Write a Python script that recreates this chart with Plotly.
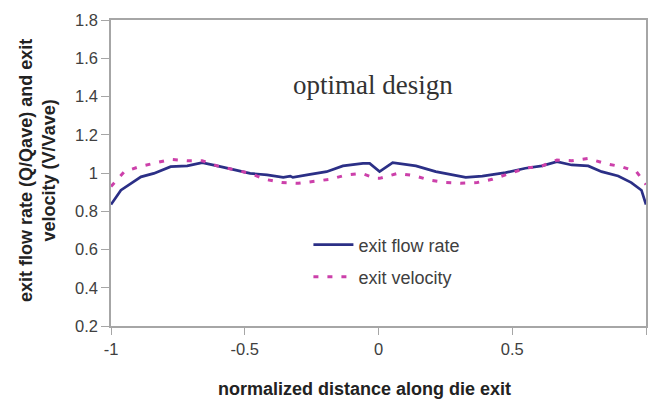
import plotly.graph_objects as go

# exit flow rate (Q/Qave)
flow_x = [-1.0, -0.963, -0.915, -0.888, -0.84, -0.777, -0.715, -0.659, -0.603, -0.542,
          -0.48, -0.417, -0.356, -0.33, -0.32, -0.256, -0.194, -0.133, -0.058, -0.033,
          0.004, 0.053, 0.14, 0.214, 0.276, 0.326, 0.388, 0.475, 0.549, 0.611,
          0.667, 0.722, 0.784, 0.834, 0.896, 0.945, 0.983, 1.0]
flow_y = [0.835, 0.91, 0.955, 0.98, 0.998, 1.033, 1.037, 1.054, 1.037, 1.019,
          0.998, 0.99, 0.977, 0.984, 0.977, 0.993, 1.007, 1.037, 1.05, 1.05,
          1.007, 1.054, 1.037, 1.007, 0.99, 0.977, 0.984, 1.002, 1.025, 1.037,
          1.059, 1.042, 1.037, 1.007, 0.984, 0.95, 0.91, 0.835]

# exit velocity (V/Vave)
vel_x = [-1.0, -0.95, -0.895, -0.839, -0.777, -0.715, -0.659, -0.603, -0.542, -0.48,
         -0.424, -0.362, -0.3, -0.244, -0.182, -0.12, -0.064, -0.009, 0.004, 0.072,
         0.134, 0.19, 0.252, 0.307, 0.369, 0.425, 0.487, 0.549, 0.611, 0.667,
         0.722, 0.784, 0.846, 0.908, 0.964, 1.0]
vel_y = [0.93, 1.007, 1.033, 1.05, 1.071, 1.064, 1.064, 1.037, 1.019, 0.998,
         0.967, 0.95, 0.946, 0.955, 0.967, 0.99, 0.998, 0.972, 0.972, 0.998,
         0.986, 0.963, 0.95, 0.946, 0.95, 0.967, 0.998, 1.025, 1.037, 1.068,
         1.064, 1.076, 1.05, 1.033, 1.007, 0.94]

x_tickvals = [-1, -0.5, 0, 0.5, 1]
x_ticktext = ["-1", "-0.5", "0", "0.5", "1"]
y_tickvals = [0.2, 0.4, 0.6, 0.8, 1.0, 1.2, 1.4, 1.6, 1.8]
y_ticktext = ["0.2", "0.4", "0.6", "0.8", "1", "1.2", "1.4", "1.6", "1.8"]

NAVY = "#2B2F86"
PINK = "#CC40AA"
AXIS = "#A6A6A6"
TXT = "#404040"

fig = go.Figure()
fig.add_trace(go.Scatter(x=flow_x, y=flow_y, mode="lines", name="exit flow rate",
                         legend="legend",
                         line=dict(color=NAVY, width=2.7)))
fig.add_trace(go.Scatter(x=vel_x, y=vel_y, mode="lines", name="exit velocity",
                         legend="legend2",
                         line=dict(color=PINK, width=3, dash="5px,9px")))

leg_common = dict(xanchor="left", yanchor="middle", bgcolor="rgba(0,0,0,0)",
                  font=dict(size=18, color=TXT), itemwidth=40)

fig.update_layout(
    width=650, height=399,
    margin=dict(l=111, r=2, t=20, b=73),
    paper_bgcolor="white", plot_bgcolor="white",
    font=dict(family="Liberation Sans, Arial", color=TXT, size=17),
    showlegend=True,
    legend=dict(x=0.369, y=(326 - 245) / 306, **leg_common),
    legend2=dict(x=0.369, y=(326 - 277) / 306, **leg_common),
    xaxis=dict(range=[-1, 1], tickvals=x_tickvals, ticktext=x_ticktext,
               showgrid=False, zeroline=False, showline=True, linecolor=AXIS,
               linewidth=1.5, mirror=True, ticks="outside", ticklen=7,
               tickcolor=AXIS, tickfont=dict(size=16.5, color=TXT)),
    yaxis=dict(range=[0.2, 1.8], tickvals=y_tickvals, ticktext=y_ticktext,
               showgrid=False, zeroline=False, showline=True, linecolor=AXIS,
               linewidth=1.5, mirror=True, ticks="outside", ticklen=8,
               tickcolor=AXIS, tickfont=dict(size=16.5, color=TXT)),
    annotations=[
        dict(text="optimal design", x=-0.019, y=1.46, xref="x", yref="y",
             showarrow=False, font=dict(family="Liberation Serif, Times New Roman",
                                        size=27, color="#333333")),
        dict(text="<b>normalized distance along die exit</b>", x=0.473, y=-0.205,
             xref="paper", yref="paper", showarrow=False, yanchor="middle",
             font=dict(size=18, color="#222222")),
        dict(text="<b>exit flow rate (Q/Qave) and exit<br>velocity (V/Vave)</b>",
             x=-0.1365, y=0.51, xref="paper", yref="paper", showarrow=False,
             textangle=-90, xanchor="center", yanchor="middle",
             font=dict(size=18, color="#222222")),
    ],
)

fig.write_html("out.html")
